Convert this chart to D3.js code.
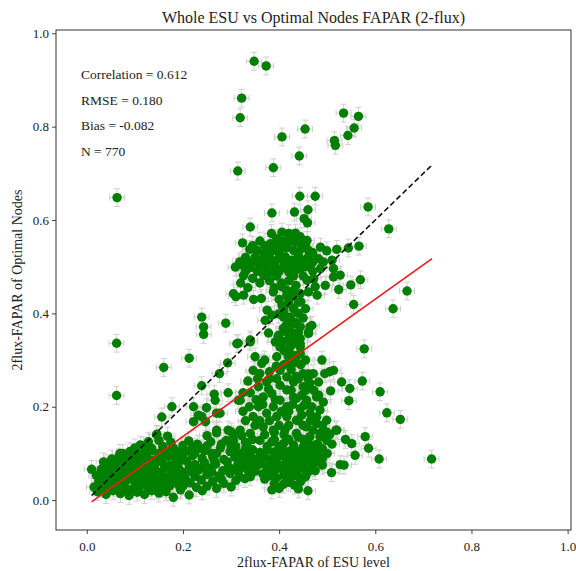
<!DOCTYPE html>
<html>
  <head>
    <meta charset='utf-8'>
    <script src="https://d3js.org/d3.v7.min.js"></script>
    <title>Whole ESU vs Optimal Nodes FAPAR</title>
    <style>
      body { margin: 0; background: #fff; }
      text { font-family: "Liberation Serif", "Times New Roman", serif; fill: #222; }
    </style>
  </head>
  <body>
    <div id='chartDIV'></div>
    <script>

  // ---- data ----
  const titleText = "Whole ESU vs Optimal Nodes FAPAR (2-flux)";
  const xLabel = "2flux-FAPAR of ESU level";
  const yLabel = "2flux-FAPAR of Optimal Nodes";
  const tickValues = [0.0, 0.2, 0.4, 0.6, 0.8, 1.0];
  const statLines = ["Correlation = 0.612", "RMSE = 0.180", "Bias = -0.082", "N = 770"];

  const xErr = 0.0155;
  const yErr = 0.019;

  // regression line and 1:1 line
  const fitSlope = 0.736;
  const fitIntercept = -0.011;
  const lineXRange = [0.01, 0.718];

  // scattered points away from the main clouds
  const outlierPoints = [
    [0.348,0.940],[0.373,0.930],[0.322,0.861],[0.319,0.819],[0.534,0.829],[0.565,0.822],[0.556,0.797],
    [0.543,0.781],[0.515,0.770],[0.517,0.760],[0.454,0.795],[0.406,0.778],[0.442,0.737],[0.388,0.712],
    [0.314,0.705],[0.443,0.651],[0.475,0.651],[0.585,0.628],[0.385,0.615],[0.432,0.617],[0.460,0.622],
    [0.452,0.603],[0.459,0.594],[0.340,0.585],[0.628,0.581],[0.063,0.648],[0.062,0.336],[0.062,0.224],
    [0.213,0.304],[0.160,0.284],[0.293,0.294],[0.276,0.271],[0.239,0.245],[0.310,0.436],
    [0.177,0.200],[0.156,0.178],[0.222,0.200],[0.249,0.198],[0.265,0.227],[0.294,0.230],[0.232,0.182],
    [0.222,0.168],[0.247,0.168],[0.270,0.186],[0.319,0.214],[0.270,0.144],[0.301,0.146],[0.146,0.141],
    [0.111,0.118],[0.107,0.096],[0.069,0.100],[0.010,0.066],[0.035,0.082],
    [0.573,0.255],[0.547,0.239],[0.545,0.213],[0.530,0.253],[0.507,0.234],[0.505,0.275],[0.489,0.300],
    [0.624,0.187],[0.652,0.173],[0.717,0.088],[0.608,0.088],[0.586,0.111],[0.579,0.136],[0.558,0.096],
    [0.551,0.121],[0.538,0.130],[0.518,0.150],[0.499,0.146],[0.485,0.136],[0.478,0.178],[0.482,0.225],
    [0.464,0.250],[0.461,0.270],[0.452,0.203],[0.447,0.182],[0.500,0.100],[0.485,0.082],[0.461,0.061],
    [0.460,0.020],[0.409,0.034],[0.509,0.059],[0.527,0.076],[0.535,0.075],[0.366,0.056],[0.329,0.046],
    [0.324,0.071],[0.347,0.071],[0.362,0.078],[0.610,0.232],
    [0.267,0.214],[0.277,0.186],[0.315,0.214],[0.294,0.150],[0.270,0.150],[0.239,0.179],[0.315,0.336],[0.340,0.343]
  ];

  // upper cloud (around 0.3-0.6 on both axes)
  const upperPoints = [
    [0.384,0.571],[0.395,0.560],[0.406,0.574],[0.420,0.571],[0.434,0.572],[0.444,0.564],[0.458,0.556],
    [0.382,0.549],[0.406,0.546],[0.420,0.553],[0.434,0.553],[0.447,0.539],[0.461,0.535],[0.324,0.551],
    [0.339,0.537],[0.354,0.535],[0.368,0.528],[0.309,0.499],[0.323,0.503],[0.326,0.481],[0.340,0.498],
    [0.354,0.510],[0.364,0.503],[0.375,0.506],[0.385,0.514],[0.399,0.517],[0.413,0.521],[0.427,0.514],
    [0.437,0.506],[0.451,0.514],[0.461,0.521],[0.368,0.481],[0.382,0.489],[0.395,0.496],[0.409,0.499],
    [0.420,0.489],[0.434,0.492],[0.444,0.496],[0.465,0.499],[0.482,0.517],[0.486,0.542],[0.499,0.534],
    [0.520,0.537],[0.544,0.540],[0.566,0.544],[0.492,0.510],[0.486,0.496],[0.510,0.514],[0.513,0.496],
    [0.527,0.482],[0.513,0.478],[0.472,0.474],[0.458,0.471],[0.475,0.457],[0.496,0.460],[0.524,0.451],
    [0.549,0.461],[0.569,0.472],[0.479,0.439],[0.555,0.419],[0.637,0.410],[0.666,0.448],[0.305,0.442],
    [0.326,0.439],[0.347,0.430],[0.363,0.432],[0.388,0.446],[0.406,0.457],[0.416,0.439],[0.430,0.449],
    [0.444,0.442],[0.461,0.446],[0.406,0.417],[0.420,0.421],[0.440,0.424],[0.375,0.407],[0.385,0.396],
    [0.399,0.399],[0.409,0.392],[0.423,0.392],[0.430,0.378],[0.444,0.371],[0.468,0.374],[0.461,0.360],
    [0.371,0.385],[0.378,0.358],[0.399,0.353],[0.416,0.360],[0.423,0.342],[0.440,0.349],[0.444,0.335],
    [0.392,0.339],[0.340,0.339],[0.312,0.335],[0.289,0.379],[0.239,0.392],[0.243,0.371],[0.243,0.355],
    [0.577,0.324],
    [0.350,0.520],[0.365,0.515],[0.380,0.520],[0.390,0.535],[0.400,0.530],[0.415,0.540],[0.430,0.535],
    [0.440,0.525],[0.425,0.500],[0.390,0.505],[0.355,0.490],[0.340,0.510],[0.375,0.490],[0.410,0.510],
    [0.395,0.480],[0.450,0.480],[0.470,0.490],[0.420,0.470],[0.435,0.460],[0.405,0.465],[0.390,0.455],
    [0.420,0.430],[0.430,0.410],[0.410,0.405],[0.440,0.400],[0.415,0.375],[0.430,0.350],[0.420,0.345],
    [0.440,0.360],
    [0.330,0.520],[0.345,0.545],[0.360,0.555],[0.370,0.545],[0.380,0.535],[0.395,0.545],[0.410,0.555],
    [0.425,0.560],[0.445,0.550],[0.455,0.545],[0.470,0.530],[0.318,0.510],[0.330,0.490],[0.345,0.475],
    [0.360,0.465],[0.380,0.470],[0.400,0.490],[0.430,0.480],[0.455,0.500],[0.470,0.510],[0.445,0.510],
    [0.415,0.500],[0.360,0.500],[0.320,0.465],[0.335,0.455]
  ];

  // the vertical stem and the lower-middle cloud
  const middlePoints = [
    [0.350,0.307],[0.364,0.293],[0.360,0.271],[0.374,0.253],[0.357,0.243],[0.367,0.221],[0.385,0.228],
    [0.402,0.246],[0.416,0.264],[0.402,0.278],[0.419,0.293],[0.436,0.307],[0.444,0.328],[0.444,0.346],
    [0.464,0.371],[0.461,0.357],[0.433,0.357],[0.423,0.328],[0.419,0.307],[0.395,0.307],[0.394,0.287],
    [0.346,0.278],[0.423,0.389],[0.409,0.368],[0.398,0.350],[0.402,0.328],[0.433,0.336],[0.444,0.314],
    [0.450,0.271],[0.471,0.271],[0.495,0.271],[0.513,0.278],[0.482,0.253],[0.450,0.243],[0.430,0.253],
    [0.416,0.236],[0.402,0.214],[0.388,0.200],[0.416,0.200],[0.436,0.218],[0.457,0.214],[0.478,0.221],
    [0.444,0.196],[0.464,0.186],[0.485,0.193],[0.499,0.171],[0.478,0.164],[0.457,0.157],[0.436,0.171],
    [0.416,0.179],[0.395,0.179],[0.374,0.186],[0.357,0.200],[0.346,0.179],[0.367,0.157],[0.388,0.150],
    [0.412,0.150],[0.436,0.143],[0.464,0.136],[0.485,0.143],[0.340,0.143],[0.319,0.150],[0.305,0.128],
    [0.333,0.121],[0.360,0.128],[0.385,0.125],[0.409,0.121],[0.430,0.118],[0.450,0.114],[0.475,0.118],
    [0.499,0.128],[0.520,0.150],
    [0.410,0.320],[0.430,0.310],[0.445,0.290],[0.425,0.280],[0.440,0.260],[0.455,0.235],[0.430,0.220],
    [0.420,0.190],[0.440,0.170],[0.400,0.160],[0.380,0.170],[0.350,0.160],[0.370,0.140],[0.390,0.130],
    [0.410,0.140],[0.450,0.130],[0.470,0.150],[0.480,0.120],[0.460,0.100],
    [0.330,0.105],[0.345,0.108],[0.360,0.102],[0.375,0.107],[0.390,0.103],[0.405,0.109],[0.420,0.104],
    [0.435,0.106],[0.450,0.101],[0.465,0.107],[0.480,0.103],
    [0.325,0.090],[0.340,0.093],[0.355,0.088],[0.370,0.092],[0.385,0.089],[0.400,0.094],[0.415,0.087],
    [0.430,0.091],[0.445,0.093],[0.460,0.088],[0.475,0.092],[0.490,0.089],
    [0.380,0.077],[0.395,0.080],[0.410,0.075],[0.425,0.079],[0.440,0.076],[0.455,0.080],[0.470,0.077],
    [0.335,0.064],[0.350,0.062],[0.375,0.066],[0.390,0.063],[0.405,0.067],[0.420,0.062],[0.435,0.065],
    [0.450,0.068],[0.475,0.063],
    [0.340,0.050],[0.380,0.052],[0.395,0.048],[0.410,0.053],[0.425,0.049],[0.440,0.051],
    [0.390,0.035],[0.420,0.038],[0.432,0.032],[0.385,0.022],[0.440,0.024],
    [0.338,0.200],[0.352,0.215],[0.366,0.205],[0.378,0.238],[0.392,0.215],[0.405,0.190],[0.428,0.205],
    [0.447,0.225],[0.468,0.200],[0.492,0.210],[0.472,0.235],[0.460,0.260],[0.435,0.265],[0.410,0.290],
    [0.380,0.275],[0.370,0.300],[0.355,0.260],[0.335,0.255],[0.325,0.230],[0.340,0.230],[0.380,0.260],
    [0.395,0.260],[0.425,0.235],[0.450,0.160],[0.465,0.170],[0.490,0.160],[0.505,0.140],[0.420,0.160],
    [0.390,0.145],[0.360,0.170],[0.330,0.170],[0.325,0.190],[0.345,0.130],[0.375,0.115],[0.400,0.115],
    [0.420,0.130],[0.440,0.135],[0.460,0.125],[0.490,0.110],[0.510,0.120],[0.355,0.075],[0.360,0.090],
    [0.345,0.080],[0.470,0.070],[0.490,0.075],[0.455,0.050],[0.445,0.040],[0.400,0.025],[0.410,0.095],
    [0.430,0.075],[0.370,0.045],
    [0.410,0.340],[0.425,0.360],[0.435,0.380],[0.450,0.390],[0.455,0.410],[0.445,0.425],[0.430,0.440],
    [0.415,0.450],[0.400,0.430],[0.435,0.295],[0.455,0.300],[0.420,0.315]
  ];

  // the dense cloud near the origin
  const lowerPoints = [
    [0.022,0.018],[0.040,0.012],[0.055,0.020],[0.070,0.014],[0.088,0.010],[0.105,0.017],[0.120,0.012],
    [0.135,0.020],[0.150,0.015],[0.165,0.018],[0.180,0.006],[0.213,0.011],[0.195,0.022],
    [0.015,0.028],[0.030,0.025],[0.046,0.030],[0.062,0.026],[0.078,0.031],[0.095,0.024],[0.110,0.029],
    [0.127,0.027],[0.143,0.031],[0.158,0.025],[0.172,0.030],[0.190,0.033],[0.228,0.027],[0.250,0.030],
    [0.270,0.025],[0.300,0.028],
    [0.025,0.041],[0.040,0.038],[0.053,0.043],[0.068,0.037],[0.083,0.042],[0.100,0.039],[0.117,0.044],
    [0.133,0.036],[0.148,0.041],[0.163,0.045],[0.180,0.038],[0.197,0.042],[0.215,0.037],[0.238,0.043],
    [0.262,0.040],[0.285,0.036],[0.310,0.042],
    [0.020,0.053],[0.034,0.050],[0.048,0.055],[0.061,0.049],[0.076,0.054],[0.090,0.051],[0.107,0.056],
    [0.122,0.050],[0.138,0.053],[0.155,0.057],[0.170,0.050],[0.187,0.054],[0.205,0.058],[0.225,0.051],
    [0.250,0.055],[0.275,0.052],[0.298,0.057],[0.318,0.050],
    [0.030,0.066],[0.045,0.063],[0.058,0.068],[0.072,0.062],[0.087,0.066],[0.100,0.070],[0.115,0.064],
    [0.130,0.067],[0.147,0.061],[0.162,0.069],[0.178,0.065],[0.195,0.062],[0.213,0.068],[0.232,0.064],
    [0.258,0.069],[0.283,0.063],[0.305,0.067],
    [0.042,0.078],[0.056,0.075],[0.070,0.080],[0.085,0.076],[0.098,0.081],[0.112,0.074],[0.127,0.079],
    [0.142,0.077],[0.157,0.082],[0.173,0.075],[0.190,0.079],[0.208,0.083],[0.225,0.076],[0.245,0.080],
    [0.268,0.077],[0.292,0.082],[0.315,0.079],
    [0.052,0.088],[0.066,0.091],[0.080,0.087],[0.095,0.093],[0.110,0.088],[0.125,0.092],[0.140,0.086],
    [0.155,0.090],[0.170,0.094],[0.185,0.088],[0.200,0.091],[0.220,0.095],[0.240,0.089],[0.262,0.093],
    [0.285,0.087],[0.308,0.092],[0.330,0.088],
    [0.075,0.100],[0.090,0.104],[0.105,0.099],[0.120,0.103],[0.135,0.106],[0.150,0.100],[0.168,0.104],
    [0.185,0.099],[0.205,0.105],[0.225,0.101],[0.245,0.106],[0.270,0.100],[0.298,0.104],[0.322,0.100],
    [0.100,0.112],[0.118,0.116],[0.135,0.111],[0.158,0.115],[0.180,0.112],[0.200,0.117],[0.220,0.113],
    [0.250,0.116],[0.278,0.112],[0.310,0.115],
    [0.128,0.125],[0.150,0.128],[0.175,0.124],[0.212,0.127],[0.258,0.125],[0.290,0.128],[0.330,0.124],
    [0.145,0.140],[0.168,0.137],[0.250,0.138],[0.305,0.140],[0.322,0.138],
    [0.060,0.040],[0.075,0.045],[0.090,0.060],[0.110,0.045],[0.125,0.060],[0.140,0.045],[0.160,0.030],
    [0.175,0.055],[0.190,0.070],[0.205,0.045],[0.220,0.060],[0.240,0.070],[0.260,0.060],[0.280,0.045],
    [0.295,0.070],[0.315,0.060],[0.335,0.075],[0.240,0.110],[0.260,0.100],[0.280,0.120],[0.300,0.115],
    [0.230,0.120],[0.195,0.105],[0.160,0.108],[0.115,0.095],[0.080,0.070],[0.050,0.070],[0.035,0.045],
    [0.200,0.030],[0.240,0.020],[0.145,0.022],[0.085,0.020],[0.115,0.035],[0.265,0.085],[0.310,0.100],
    [0.330,0.110],[0.340,0.095]
  ];

  const allPoints = [].concat(lowerPoints, middlePoints, upperPoints, outlierPoints);

  // ---- layout ----
  const W = 576, H = 571;
  const frame = { left: 56, right: 571, top: 30, bottom: 530 };

  const xScale = d3.scaleLinear().domain([-0.064, 1.007]).range([frame.left, frame.right]);
  const yScale = d3.scaleLinear().domain([-0.064, 1.007]).range([frame.bottom, frame.top]);

  const svg = d3.select("#chartDIV")
    .append("svg")
    .attr("width", W)
    .attr("height", H);

  svg.append("rect")
    .attr("width", W).attr("height", H)
    .attr("fill", "#fff");

  const plot = svg.append("g");

  // error bars first, markers go over them
  const barColor = "#cfcfcf";
  const cap = 3;
  const bars = plot.append("g")
    .attr("stroke", barColor)
    .attr("stroke-width", 1)
    .attr("fill", "none");

  bars.selectAll("path")
    .data(allPoints)
    .enter()
    .append("path")
    .attr("d", function(d) {
      const cx = xScale(d[0]), cy = yScale(d[1]);
      const x0 = xScale(d[0] - xErr), x1 = xScale(d[0] + xErr);
      const y0 = yScale(d[1] - yErr), y1 = yScale(d[1] + yErr);
      return "M" + x0 + "," + cy + "H" + x1 +
             "M" + x0 + "," + (cy - cap) + "V" + (cy + cap) +
             "M" + x1 + "," + (cy - cap) + "V" + (cy + cap) +
             "M" + cx + "," + y0 + "V" + y1 +
             "M" + (cx - cap) + "," + y0 + "H" + (cx + cap) +
             "M" + (cx - cap) + "," + y1 + "H" + (cx + cap);
    });

  plot.append("g")
    .selectAll("circle")
    .data(allPoints)
    .enter()
    .append("circle")
    .attr("cx", d => xScale(d[0]))
    .attr("cy", d => yScale(d[1]))
    .attr("r", 4.7)
    .attr("fill", "#007f00");

  // 1:1 line
  plot.append("line")
    .attr("x1", xScale(lineXRange[0])).attr("y1", yScale(lineXRange[0]))
    .attr("x2", xScale(lineXRange[1])).attr("y2", yScale(lineXRange[1]))
    .attr("stroke", "#111")
    .attr("stroke-width", 1.6)
    .attr("stroke-dasharray", "5.5,3");

  // fitted line
  plot.append("line")
    .attr("x1", xScale(lineXRange[0])).attr("y1", yScale(fitSlope * lineXRange[0] + fitIntercept))
    .attr("x2", xScale(lineXRange[1])).attr("y2", yScale(fitSlope * lineXRange[1] + fitIntercept))
    .attr("stroke", "#ee1c1c")
    .attr("stroke-width", 1.6);

  // axes
  const xAxis = svg.append("g")
    .attr("transform", "translate(0," + frame.bottom + ")")
    .call(d3.axisBottom(xScale).tickValues(tickValues).tickFormat(d3.format(".1f")).tickSize(4).tickSizeOuter(0));
  const yAxis = svg.append("g")
    .attr("transform", "translate(" + frame.left + ",0)")
    .call(d3.axisLeft(yScale).tickValues(tickValues).tickFormat(d3.format(".1f")).tickSize(4).tickSizeOuter(0));

  [xAxis, yAxis].forEach(function(ax) {
    ax.select(".domain").remove();
    ax.selectAll(".tick line").attr("stroke", "#444");
    ax.selectAll(".tick text")
      .style("font-family", "'Liberation Serif', 'Times New Roman', serif")
      .style("font-size", "13px")
      .attr("fill", "#222");
  });
  xAxis.selectAll(".tick text").attr("dy", "1em").attr("y", 8);
  yAxis.selectAll(".tick text").attr("x", -7);

  svg.append("rect")
    .attr("x", frame.left).attr("y", frame.top)
    .attr("width", frame.right - frame.left)
    .attr("height", frame.bottom - frame.top)
    .attr("fill", "none")
    .attr("stroke", "#333")
    .attr("stroke-width", 1);

  // titles
  svg.append("text")
    .attr("x", (frame.left + frame.right) / 2)
    .attr("y", 23)
    .attr("text-anchor", "middle")
    .style("font-size", "16px")
    .text(titleText);

  svg.append("text")
    .attr("x", (frame.left + frame.right) / 2)
    .attr("y", 567)
    .attr("text-anchor", "middle")
    .style("font-size", "14px")
    .text(xLabel);

  svg.append("text")
    .attr("transform", "translate(22," + ((frame.top + frame.bottom) / 2) + ") rotate(-90)")
    .attr("text-anchor", "middle")
    .style("font-size", "14px")
    .text(yLabel);

  // statistics block
  svg.selectAll(".stat")
    .data(statLines)
    .enter()
    .append("text")
    .attr("class", "stat")
    .attr("x", 81)
    .attr("y", (d, i) => 79 + i * 25.5)
    .style("font-size", "13.5px")
    .text(d => d);

    </script>
  </body>
</html>
